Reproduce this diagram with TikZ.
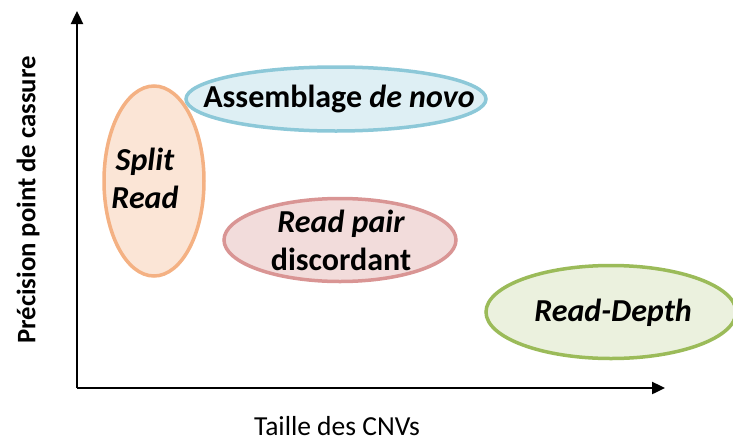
\documentclass[tikz,border=0pt]{standalone}
\usepackage{fontspec}
\setmainfont{Carlito}
\usetikzlibrary{shapes.geometric,arrows.meta}
\definecolor{srfill}{HTML}{FBE5D6}\definecolor{srdraw}{HTML}{F4B183}
\definecolor{asfill}{HTML}{DEEFF4}\definecolor{asdraw}{HTML}{8CC8D8}
\definecolor{rpfill}{HTML}{F2DCDB}\definecolor{rpdraw}{HTML}{D99594}
\definecolor{rdfill}{HTML}{EBF1DE}\definecolor{rddraw}{HTML}{9BBB59}
\tikzset{
  blob/.style={ellipse, inner sep=0pt, line width=3.5pt},
  lbl/.style={font=\fontsize{32}{38}\selectfont\bfseries, align=center, inner sep=0pt},
  axis/.style={line width=2.4pt, -{Triangle[length=13pt,width=12pt]}},
}
\begin{document}
\begin{tikzpicture}[x=1pt,y=-1pt]
\useasboundingbox (0,0) rectangle (733,442);
% ellipses
\node[blob, draw=srdraw, fill=srfill, minimum width=100pt, minimum height=190pt] (sr) at (154,181) {};
\node[blob, draw=asdraw, fill=asfill, minimum width=300pt, minimum height=64pt] (as) at (336,99) {};
\node[blob, draw=rpdraw, fill=rpfill, minimum width=232pt, minimum height=83pt] (rp) at (340,240) {};
\node[blob, draw=rddraw, fill=rdfill, minimum width=250pt, minimum height=93pt] (rd) at (611,312) {};
% labels
\node[lbl] (srt) at (145,178) {\itshape Split\\\itshape Read};
\node[lbl] (ast) at (339,99) {Assemblage \itshape de novo};
\node[lbl] (rpt) at (341,240) {\itshape Read pair\\discordant};
\node[lbl] (rdt) at (613,313) {\itshape Read-Depth};
% axes
\coordinate (o) at (77,388);
\coordinate (xe) at (665,388);
\coordinate (ye) at (77,11);
\draw[axis] (o) -- (xe);
\draw[axis] (o) -- (ye);
\node[font=\fontsize{27.5}{32}\selectfont, inner sep=0pt, text depth=0pt, anchor=base] (xl) at (337,435) {Taille des CNVs};
\node[font=\fontsize{26.7}{30}\selectfont\bfseries, rotate=90, inner sep=0pt] (yl) at (28,200) {Précision point de cassure};
\end{tikzpicture}
\end{document}
